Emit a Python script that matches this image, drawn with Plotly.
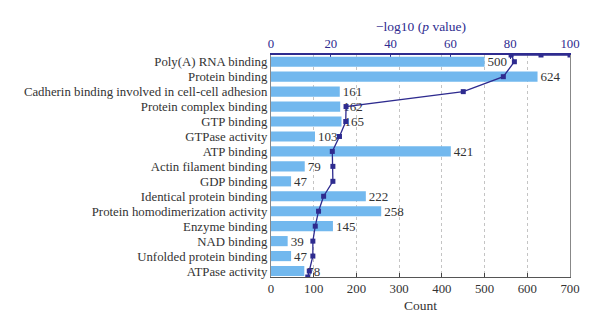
import plotly.graph_objects as go

# GO molecular-function terms, top to bottom
terms = [
    "Poly(A) RNA binding",
    "Protein binding",
    "Cadherin binding involved in cell-cell adhesion",
    "Protein complex binding",
    "GTP binding",
    "GTPase activity",
    "ATP binding",
    "Actin filament binding",
    "GDP binding",
    "Identical protein binding",
    "Protein homodimerization activity",
    "Enzyme binding",
    "NAD binding",
    "Unfolded protein binding",
    "ATPase activity",
]
counts = [500, 624, 161, 162, 165, 103, 421, 79, 47, 222, 258, 145, 39, 47, 78]
neg_log_p = [81.4, 77.7, 64.3, 25.1, 25.0, 22.9, 20.5, 20.7, 20.7, 17.6, 15.9, 14.8, 14.0, 14.0, 12.8]

# terms whose -log10(p) runs past the plotted rows (clipped at the frame)
offscale_above = [100.0, 90.3, 80.3]
offscale_below = [12.3]

FONT = "Liberation Serif"
NAVY = "#2e2b8f"
BAR = "#72b8ee"
TXT = "#333333"

pos = list(range(len(terms)))
y_top, y_bottom = -0.45, len(terms) - 0.6

fig = go.Figure()

fig.add_trace(go.Bar(
    x=counts, y=pos, orientation="h",
    marker=dict(color=BAR, line=dict(width=0)),
    width=0.68,
    text=[str(c) for c in counts], textposition="outside",
    constraintext="none",
    textfont=dict(family=FONT, size=13, color=TXT),
    cliponaxis=False,
    xaxis="x", yaxis="y",
    showlegend=False,
))

line_x = offscale_above + neg_log_p + offscale_below
line_y = [y_top] * len(offscale_above) + pos + [y_bottom] * len(offscale_below)
fig.add_trace(go.Scatter(
    x=line_x, y=line_y, mode="lines+markers",
    line=dict(color=NAVY, width=1.3),
    marker=dict(symbol="square", size=5, color=NAVY),
    xaxis="x2", yaxis="y",
    cliponaxis=True,
    showlegend=False,
))

fig.update_layout(
    width=600, height=332,
    margin=dict(l=271, r=30, t=55, b=55),
    paper_bgcolor="white", plot_bgcolor="white",
    font=dict(family=FONT, size=12.8, color=TXT),
    xaxis=dict(
        range=[0, 700], tickvals=[0, 100, 200, 300, 400, 500, 600, 700],
        ticks="inside", ticklen=4, tickcolor="#444",
        showline=True, linecolor="#555", linewidth=1.2,
        showgrid=True, gridcolor="#c4c4c4", griddash="dot", gridwidth=1,
        zeroline=False,
        tickfont=dict(family=FONT, size=12.8, color=TXT),
    ),
    xaxis2=dict(
        range=[0, 100], tickvals=[0, 20, 40, 60, 80, 100],
        overlaying="x", side="top",
        ticks="inside", ticklen=4, tickcolor=NAVY,
        showline=True, linecolor=NAVY, linewidth=1.5,
        showgrid=False, zeroline=False,
        tickfont=dict(family=FONT, size=12.8, color=NAVY),
        layer="below traces",
    ),
    yaxis=dict(
        range=[y_bottom, y_top],
        tickvals=pos, ticktext=terms,
        showline=True, linecolor="#888", linewidth=1.2, mirror=True,
        showgrid=False, zeroline=False, ticks="",
        tickfont=dict(family=FONT, size=12.8, color=TXT),
    ),
    annotations=[
        dict(text="\u2212log10 (<i>p</i> value)", xref="paper", yref="paper",
             x=0.5, y=1.13, xanchor="center", yanchor="middle", showarrow=False,
             font=dict(family=FONT, size=13.5, color=NAVY)),
        dict(text="Count", xref="paper", yref="paper",
             x=0.5, y=-0.13, xanchor="center", yanchor="middle", showarrow=False,
             font=dict(family=FONT, size=13.5, color=TXT)),
    ],
)

fig.write_html("out.html")
